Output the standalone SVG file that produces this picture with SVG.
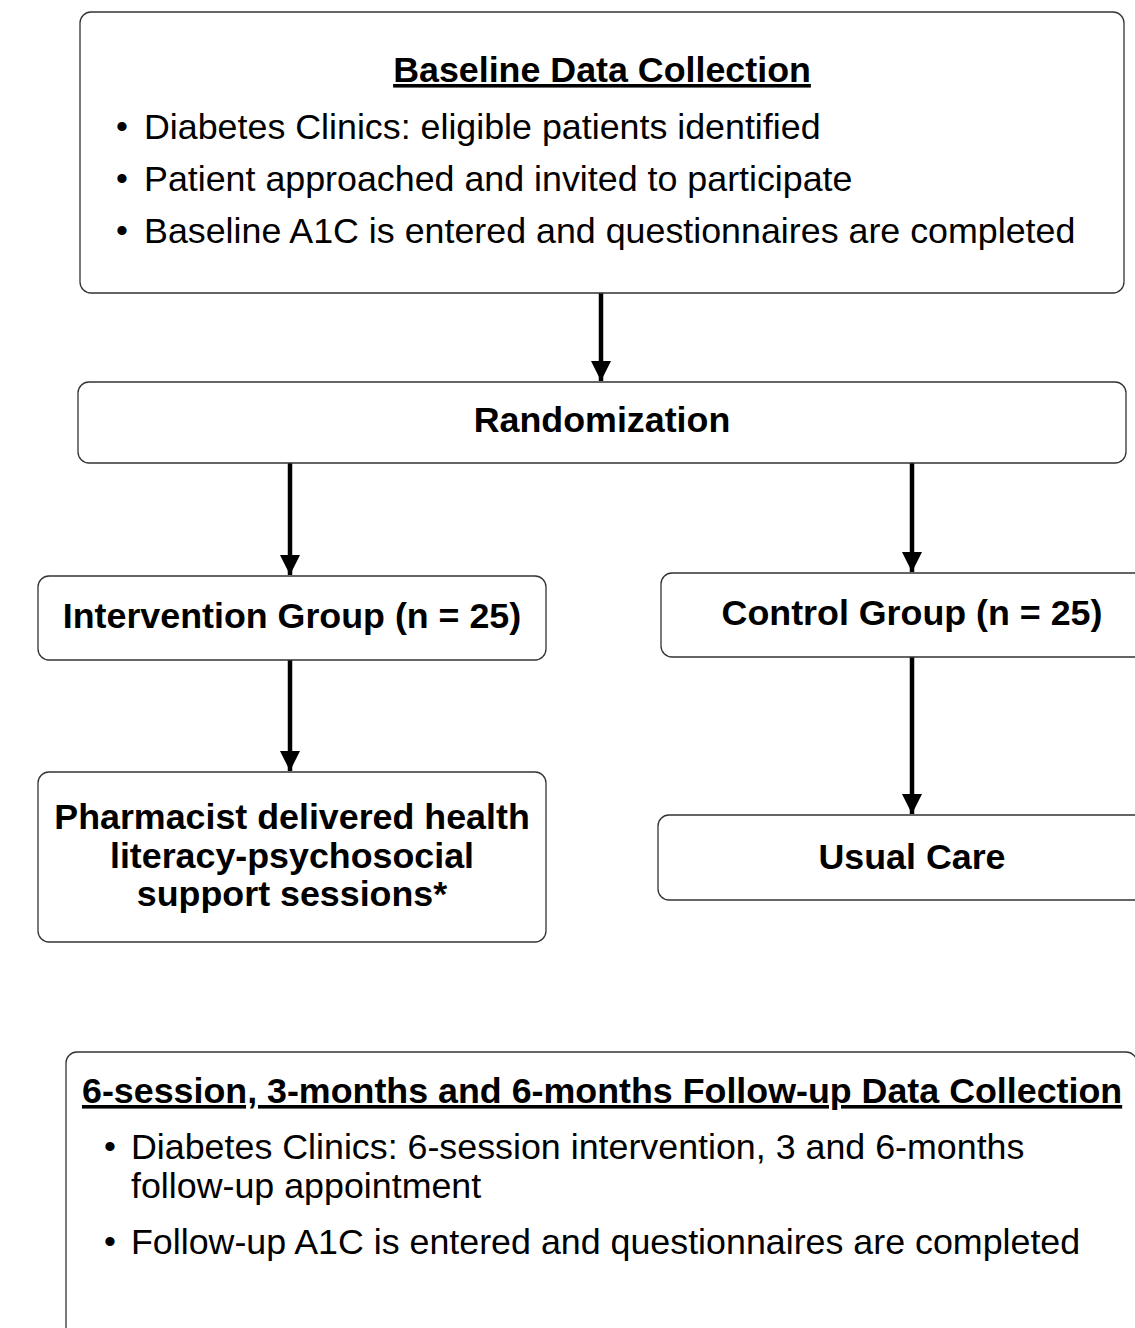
<svg xmlns="http://www.w3.org/2000/svg" width="1135" height="1328" viewBox="0 0 1135 1328">
<style>
.box{fill:#fff;stroke:#333;stroke-width:1.3}
.t{font-family:"Liberation Sans",Arial,sans-serif;font-size:35.8px;fill:#000}
.bl{font-family:"Liberation Sans",Arial,sans-serif;font-size:34px;fill:#000}
.b{font-weight:bold}
.c{text-anchor:middle}
.conn{stroke:#000;stroke-width:4.5;fill:none}
</style>
<defs>
<marker id="ah" markerUnits="userSpaceOnUse" markerWidth="22" markerHeight="22" refX="20" refY="10" orient="auto">
<path d="M0,0 L20,10 L0,20 Z" fill="#000"/>
</marker>
</defs>
<rect width="1135" height="1328" fill="#fff"/>
<g id="connectors">
<line class="conn" x1="601" y1="293" x2="601" y2="381" marker-end="url(#ah)"/>
<line class="conn" x1="290" y1="463" x2="290" y2="575" marker-end="url(#ah)"/>
<line class="conn" x1="912" y1="463" x2="912" y2="572" marker-end="url(#ah)"/>
<line class="conn" x1="290" y1="660" x2="290" y2="771" marker-end="url(#ah)"/>
<line class="conn" x1="912" y1="657" x2="912" y2="814" marker-end="url(#ah)"/>
</g>
<g id="baseline">
<rect class="box" x="80" y="12" width="1044" height="281" rx="11"/>
<text class="t b c" x="602" y="82" text-decoration="underline">Baseline Data Collection</text>
<text class="bl" x="116" y="138">•</text><text class="t" x="144" y="139">Diabetes Clinics: eligible patients identified</text>
<text class="bl" x="116" y="190">•</text><text class="t" x="144" y="191">Patient approached and invited to participate</text>
<text class="bl" x="116" y="242">•</text><text class="t" x="144" y="243">Baseline A1C is entered and questionnaires are completed</text>
</g>
<g id="randomization">
<rect class="box" x="78" y="382" width="1048" height="81" rx="11"/>
<text class="t b c" x="602" y="432">Randomization</text>
</g>
<g id="intervention">
<rect class="box" x="38" y="576" width="508" height="84" rx="11"/>
<text class="t b c" x="292" y="628">Intervention Group (n = 25)</text>
</g>
<g id="control">
<rect class="box" x="661" y="573" width="500" height="84" rx="11"/>
<text class="t b c" x="912" y="625">Control Group (n = 25)</text>
</g>
<g id="pharmacist">
<rect class="box" x="38" y="772" width="508" height="170" rx="11"/>
<text class="t b c" x="292" y="829">Pharmacist delivered health</text>
<text class="t b c" x="292" y="868">literacy-psychosocial</text>
<text class="t b c" x="292" y="906">support sessions*</text>
</g>
<g id="usualcare">
<rect class="box" x="658" y="815" width="500" height="85" rx="11"/>
<text class="t b c" x="912" y="869">Usual Care</text>
</g>
<g id="followup">
<rect class="box" x="66" y="1052" width="1071" height="300" rx="11"/>
<text class="t b" x="82" y="1103" text-decoration="underline">6-session, 3-months and 6-months Follow-up Data Collection</text>
<text class="bl" x="104" y="1158">•</text><text class="t" x="131" y="1159">Diabetes Clinics: 6-session intervention, 3 and 6-months</text>
<text class="t" x="131" y="1198">follow-up appointment</text>
<text class="bl" x="104" y="1253">•</text><text class="t" x="131" y="1254">Follow-up A1C is entered and questionnaires are completed</text>
</g>
</svg>
